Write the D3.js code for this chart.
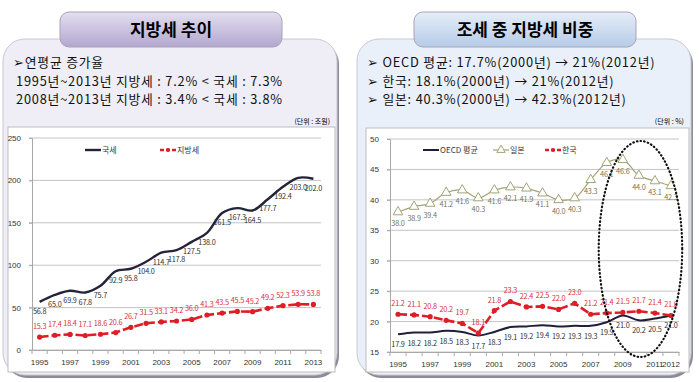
<!DOCTYPE html>
<html>
<head>
<meta charset="utf-8">
<script src="https://cdn.jsdelivr.net/npm/d3@7"></script>
<style>
  body { margin: 0; background: #fff; }
  svg { display: block; font-family: 'Noto Sans CJK KR', 'Noto Sans', sans-serif; }
</style>
</head>
<body>
<div id="wrapper"></div>
<script>
/* DATA */
const taxYears = ['1995', '1996', '1997', '1998', '1999', '2000', '2001', '2002', '2003', '2004',
  '2005', '2006', '2007', '2008', '2009', '2010', '2011', '2012', '2013'];
const nationalTax = [56.8, 65.0, 69.9, 67.8, 75.7, 92.9, 95.8, 104.0, 114.7, 117.8,
  127.5, 138.0, 161.5, 167.3, 164.5, 177.7, 192.4, 203.0, 202.0];
const localTax = [15.3, 17.4, 18.4, 17.1, 18.6, 20.6, 26.7, 31.5, 33.1, 34.2,
  36.0, 41.3, 43.5, 45.5, 45.2, 49.2, 52.3, 53.9, 53.8];
const taxYearLabels = ['1995', '1997', '1999', '2001', '2003', '2005', '2007', '2009', '2011', '2013'];
const taxTicks = [0, 50, 100, 150, 200, 250];

const shareYears = ['1995', '1996', '1997', '1998', '1999', '2000', '2001', '2002', '2003',
  '2004', '2005', '2006', '2007', '2008', '2009', '2010', '2011', '2012'];
const oecdShare = [17.9, 18.2, 18.2, 18.5, 18.3, 17.7, 18.3, 19.1, 19.2,
  19.4, 19.2, 19.3, 19.3, 19.9, 21.0, 20.2, 20.5, 21.0];
const japanShare = [38.0, 38.9, 39.4, 41.2, 41.6, 40.3, 41.6, 42.1, 41.9,
  41.1, 40.0, 40.3, 43.3, 46.1, 46.6, 44.0, 43.1, 42.3];
const koreaShare = [21.2, 21.1, 20.8, 20.2, 19.7, 18.1, 21.8, 23.3, 22.4,
  22.5, 22.0, 23.0, 21.2, 21.4, 21.5, 21.7, 21.4, 21.0];
const shareYearLabels = ['1995', '1997', '1999', '2001', '2003', '2005', '2007', '2009', '2011', '2012'];
const shareTicks = [15, 20, 25, 30, 35, 40, 45, 50];
const highlightYears = ['2008', '2012'];

const leftNotes = ['➢연평균 증가율', '1995년~2013년  지방세 : 7.2% < 국세 : 7.3%',
  '2008년~2013년  지방세 : 3.4% < 국세 : 3.8%'];
const rightNotes = ['➢ OECD 평균: 17.7%(2000년) → 21%(2012년)', '➢ 한국: 18.1%(2000년) → 21%(2012년)',
  '➢ 일본: 40.3%(2000년) → 42.3%(2012년)'];

/* LAYOUT */
const width = 699;
const height = 382;

const svg = d3.select('#wrapper')
  .append('svg')
  .attr('width', width)
  .attr('height', height);

const defs = svg.append('defs');

function gradient(id, top, bottom) {
  const g = defs.append('linearGradient').attr('id', id)
    .attr('x1', 0).attr('y1', 0).attr('x2', 0).attr('y2', 1);
  g.append('stop').attr('offset', '0%').attr('stop-color', top);
  g.append('stop').attr('offset', '100%').attr('stop-color', bottom);
}
gradient('tabPurple', '#e4dff0', '#b2a7cf');
gradient('tabBlue', '#e6eef9', '#b5cbe7');

function drawPanel(x, w, fill, tabFill, title, notes) {
  // shadow + panel
  svg.append('rect')
    .attr('x', x + 2).attr('y', 42)
    .attr('width', w).attr('height', 336)
    .attr('rx', 22)
    .attr('fill', '#8c8c96');
  svg.append('rect')
    .attr('x', x).attr('y', 39)
    .attr('width', w).attr('height', 336)
    .attr('rx', 22)
    .attr('fill', fill)
    .attr('stroke', '#c9c9d2');

  svg.append('rect')
    .attr('x', x + 57).attr('y', 12)
    .attr('width', 222).attr('height', 35)
    .attr('rx', 9)
    .attr('fill', `url(#${tabFill})`)
    .attr('stroke', '#a9a3ba');
  svg.append('text')
    .attr('x', x + 168).attr('y', 36)
    .attr('text-anchor', 'middle')
    .style('font-size', '17px')
    .style('font-weight', 'bold')
    .text(title);

  svg.append('g').selectAll('text')
    .data(notes)
    .join('text')
    .attr('x', d => x + (d.startsWith('➢') ? 10 : 13))
    .attr('y', (d, i) => 67 + i * 18.6)
    .style('font-size', '12.8px')
    .style('letter-spacing', '0.8px')
    .attr('fill', '#111')
    .text(d => d);
}

drawPanel(3, 334, '#efedf6', 'tabPurple', '지방세 추이', leftNotes);
drawPanel(357, 334, '#e9f0f9', 'tabBlue', '조세 중 지방세 비중', rightNotes);

svg.append('text').attr('x', 330).attr('y', 124).attr('text-anchor', 'end')
  .style('font-size', '7px').text('(단위 : 조원)');
svg.append('text').attr('x', 684).attr('y', 124).attr('text-anchor', 'end')
  .style('font-size', '7px').text('(단위 : %)');

/* CHART HELPER */
function drawChart(opt) {
  const g = svg.append('g');
  g.append('rect')
    .attr('x', opt.frame[0]).attr('y', opt.frame[1])
    .attr('width', opt.frame[2]).attr('height', opt.frame[3])
    .attr('fill', '#fff')
    .attr('stroke', '#bdbdbd');

  const x = d3.scaleBand().domain(opt.years).range(opt.xRange);
  const y = d3.scaleLinear().domain(opt.yDomain).range(opt.yRange);
  const cx = d => x(d) + x.bandwidth() / 2;

  // gridlines
  g.append('g').selectAll('line')
    .data(opt.ticks)
    .join('line')
    .attr('x1', opt.xRange[0] - 3).attr('x2', opt.xRange[1])
    .attr('y1', d => y(d)).attr('y2', d => y(d))
    .attr('stroke', '#c4c4c4');

  const yAxis = g.append('g')
    .attr('transform', `translate(${opt.xRange[0]},0)`)
    .call(d3.axisLeft(y).tickValues(opt.ticks).tickSize(3).tickPadding(8));
  yAxis.select('.domain').attr('stroke', '#a8a8a8');
  yAxis.selectAll('.tick line').attr('stroke', '#a8a8a8');
  yAxis.selectAll('text').style('font-size', '8px').attr('fill', '#333');

  const xAxis = g.append('g')
    .attr('transform', `translate(0,${opt.yRange[0]})`)
    .call(d3.axisBottom(x).tickSize(0).tickPadding(9)
      .tickFormat(d => opt.xLabels.includes(d) ? d : ''));
  xAxis.select('.domain').attr('stroke', '#a8a8a8');
  xAxis.selectAll('text').style('font-size', '8px').attr('fill', '#333');
  xAxis.append('g').selectAll('line')
    .data(opt.years.concat(['end']))
    .join('line')
    .attr('x1', d => d === 'end' ? opt.xRange[1] : x(d))
    .attr('x2', d => d === 'end' ? opt.xRange[1] : x(d))
    .attr('y1', 0).attr('y2', 4)
    .attr('stroke', '#a8a8a8');

  opt.series.forEach(s => {
    const pts = s.values.map((v, i) => [cx(opt.years[i]), y(v)]);
    g.append('path')
      .datum(pts)
      .attr('fill', 'none')
      .attr('stroke', s.color)
      .attr('stroke-width', s.width)
      .attr('stroke-dasharray', s.dash || null)
      .attr('d', d3.line().curve(s.smooth ? d3.curveCatmullRom : d3.curveLinear)(pts));

    if (s.marker === 'circle') {
      g.append('g').selectAll('circle')
        .data(pts)
        .join('circle')
        .attr('cx', d => d[0]).attr('cy', d => d[1])
        .attr('r', 2.6)
        .attr('fill', s.color);
    } else if (s.marker === 'triangle') {
      g.append('g').selectAll('path')
        .data(pts)
        .join('path')
        .attr('transform', d => `translate(${d[0]},${d[1]})`)
        .attr('d', d3.symbol(d3.symbolTriangle, 40)())
        .attr('fill', '#fff')
        .attr('stroke', s.color)
        .attr('stroke-width', 1);
    }

    g.append('g').selectAll('text')
      .data(s.values)
      .join('text')
      .attr('x', (d, i) => cx(opt.years[i]))
      .attr('y', d => y(d) + s.labelDy)
      .attr('text-anchor', 'middle')
      .style('font-size', '7.3px')
      .style('letter-spacing', '-0.2px')
      .attr('fill', s.labelColor)
      .text(d => d.toFixed(1));
  });

  // legend
  const lg = g.append('g');
  opt.series.forEach(s => {
    const [lx, ly] = s.legend;
    lg.append('line')
      .attr('x1', lx).attr('x2', lx + 16)
      .attr('y1', ly).attr('y2', ly)
      .attr('stroke', s.color)
      .attr('stroke-width', s.width)
      .attr('stroke-dasharray', s.dash ? '4,2' : null);
    if (s.marker === 'circle') {
      lg.append('circle').attr('cx', lx + 8).attr('cy', ly).attr('r', 2).attr('fill', s.color);
    } else if (s.marker === 'triangle') {
      lg.append('path')
        .attr('transform', `translate(${lx + 8},${ly})`)
        .attr('d', d3.symbol(d3.symbolTriangle, 30)())
        .attr('fill', '#fff').attr('stroke', s.color);
    }
    lg.append('text')
      .attr('x', lx + 17).attr('y', ly + 3)
      .style('font-size', '8px')
      .attr('fill', '#333')
      .text(s.name);
  });

  return { x, y };
}

/* LEFT CHART */
drawChart({
  frame: [8, 127, 327, 245],
  years: taxYears,
  xRange: [32, 321],
  yDomain: [0, 250],
  yRange: [350, 138],
  ticks: taxTicks,
  xLabels: taxYearLabels,
  series: [
    { name: '국세', values: nationalTax, color: '#23233a', width: 2.4, smooth: true,
      labelDy: 12, labelColor: '#333', legend: [85, 150] },
    { name: '지방세', values: localTax, color: '#dd1e26', width: 2.6, dash: '9,3',
      marker: 'circle', labelDy: -8, labelColor: '#d6333b', legend: [160, 150] },
  ],
});

/* RIGHT CHART */
const right = drawChart({
  frame: [366, 128, 323, 244],
  years: shareYears,
  xRange: [390, 679],
  yDomain: [15, 50],
  yRange: [352, 139],
  ticks: shareTicks,
  xLabels: shareYearLabels,
  series: [
    { name: 'OECD 평균', values: oecdShare, color: '#1f1f3c', width: 2, smooth: true,
      labelDy: 13, labelColor: '#333', legend: [423, 150] },
    { name: '일본', values: japanShare, color: '#a3a37a', width: 1.2, smooth: true,
      marker: 'triangle', labelDy: 14, labelColor: '#77775a', legend: [493, 150] },
    { name: '한국', values: koreaShare, color: '#dd1e26', width: 2.6, dash: '9,3',
      marker: 'circle', labelDy: -8, labelColor: '#d6333b', legend: [545, 150] },
  ],
});

// dotted highlight ellipse around the last years
const ex0 = right.x(highlightYears[0]);
const ex1 = right.x(highlightYears[1]) + right.x.bandwidth() * 1.2;
svg.append('ellipse')
  .attr('cx', (ex0 + ex1) / 2)
  .attr('cy', 249)
  .attr('rx', (ex1 - ex0) / 2)
  .attr('ry', 108)
  .attr('fill', 'none')
  .attr('stroke', '#111')
  .attr('stroke-width', 2.2)
  .attr('stroke-dasharray', '0.5,3.2')
  .attr('stroke-linecap', 'round');
</script>
</body>
</html>
